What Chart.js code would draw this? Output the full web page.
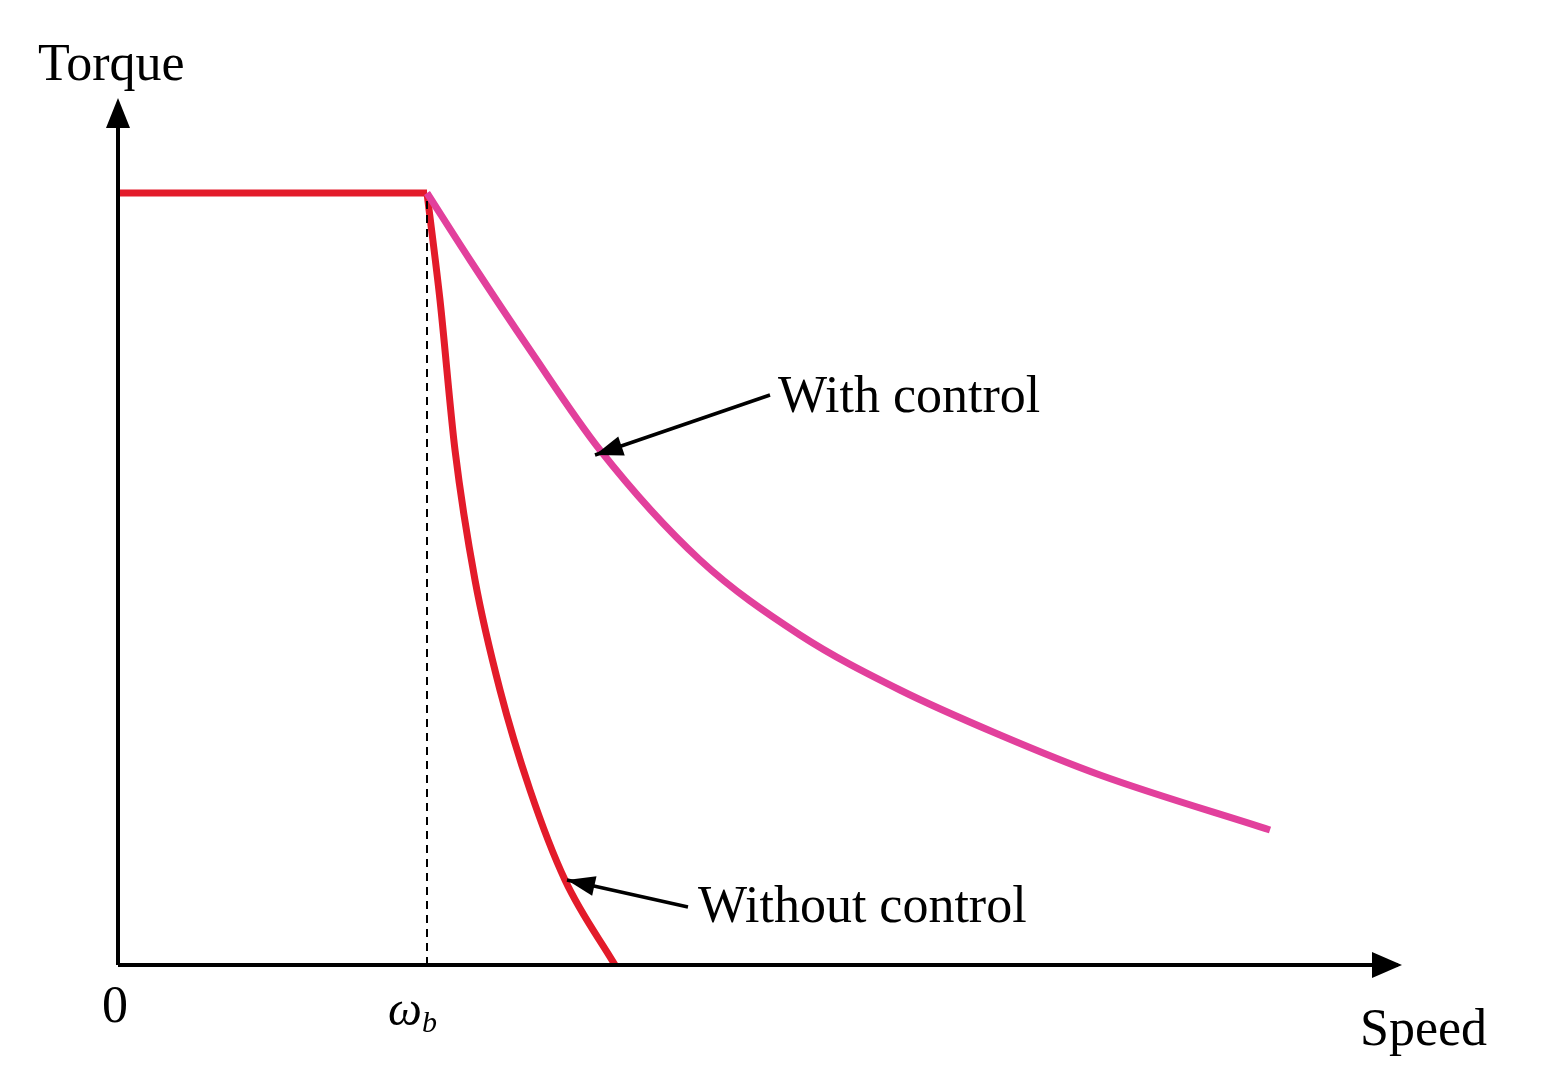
<!DOCTYPE html>
<html><head><meta charset="utf-8">
<script src="https://cdn.jsdelivr.net/npm/chart.js@4"></script>
<style>html,body{margin:0;background:#fff}#w{width:1549px;height:1090px}</style>
</head><body><div id="w"><canvas id="c"></canvas></div>
<script>
const flatX=[0,309], flatY=[772,772];
const withX=[309,352,412,482,582,682,782,882,982,1152];
const withY=[772,705,615,515,405,330,275,230,190,135];
const woX=[309,322,337,357,382,412,447,497];
const woY=[772,665,515,385,275,175,85,0];
const wb=309;
const pts=(xs,ys)=>xs.map((x,i)=>({x,y:ys[i]}));
const F='"Liberation Serif", "DejaVu Serif", serif';
const deco={id:'deco',afterDatasetsDraw(ch){
 const c=ch.ctx,X=ch.scales.x,Y=ch.scales.y;
 const px=v=>X.getPixelForValue(v),py=v=>Y.getPixelForValue(v);
 c.save();c.strokeStyle='#000';c.fillStyle='#000';c.lineWidth=4;
 // axes
 c.beginPath();c.moveTo(px(0),py(0));c.lineTo(px(1280),py(0));c.moveTo(px(0),py(0));c.lineTo(px(0),py(860));c.stroke();
 c.beginPath();c.moveTo(1402,py(0));c.lineTo(1372,py(0)-13);c.lineTo(1372,py(0)+13);c.fill();
 c.beginPath();c.moveTo(px(0),98);c.lineTo(px(0)-12,128);c.lineTo(px(0)+12,128);c.fill();
 // dashed
 c.lineWidth=2;c.setLineDash([8,6]);c.beginPath();c.moveTo(px(wb),py(0));c.lineTo(px(wb),py(770));c.stroke();c.setLineDash([]);
 // arrows
 function arr(x1,y1,x2,y2){c.lineWidth=3.5;c.beginPath();c.moveTo(x1,y1);c.lineTo(x2,y2);c.stroke();
  const a=Math.atan2(y2-y1,x2-x1),L=28,W=10;c.beginPath();c.moveTo(x2,y2);
  c.lineTo(x2-L*Math.cos(a)+W*Math.sin(a),y2-L*Math.sin(a)-W*Math.cos(a));
  c.lineTo(x2-L*Math.cos(a)-W*Math.sin(a),y2-L*Math.sin(a)+W*Math.cos(a));c.fill();}
 arr(770,395,595,455);arr(688,907,567,880);
 c.font='52px '+F;c.textBaseline='alphabetic';c.textAlign='left';
 c.fillText('With control',778,412);c.fillText('Without control',698,922);
 c.fillText('Torque',38,80);c.fillText('Speed',1360,1045);
 c.fillText('0',102,1022);
 c.font='italic 48px '+F;c.fillText('ω',388,1025);c.font='italic 30px '+F;c.fillText('b',422,1032);
 c.restore();}};
new Chart(document.getElementById('c'),{type:'scatter',
 data:{datasets:[
  {data:pts(withX,withY),showLine:true,borderColor:'#e2409c',borderWidth:7,pointRadius:0,cubicInterpolationMode:'monotone'},
  {data:pts(woX,woY),showLine:true,borderColor:'#e31b2a',borderWidth:7,pointRadius:0,cubicInterpolationMode:'monotone'},
  {data:pts(flatX,flatY),showLine:true,borderColor:'#e31b2a',borderWidth:7,pointRadius:0}]},
 options:{responsive:true,maintainAspectRatio:false,animation:false,
  layout:{padding:{left:118,right:149,top:100,bottom:125}},
  plugins:{legend:{display:false},tooltip:{enabled:false}},
  scales:{x:{display:false,type:'linear',min:0,max:1282},y:{display:false,min:0,max:865}}},
 plugins:[deco]});
</script></body></html>
